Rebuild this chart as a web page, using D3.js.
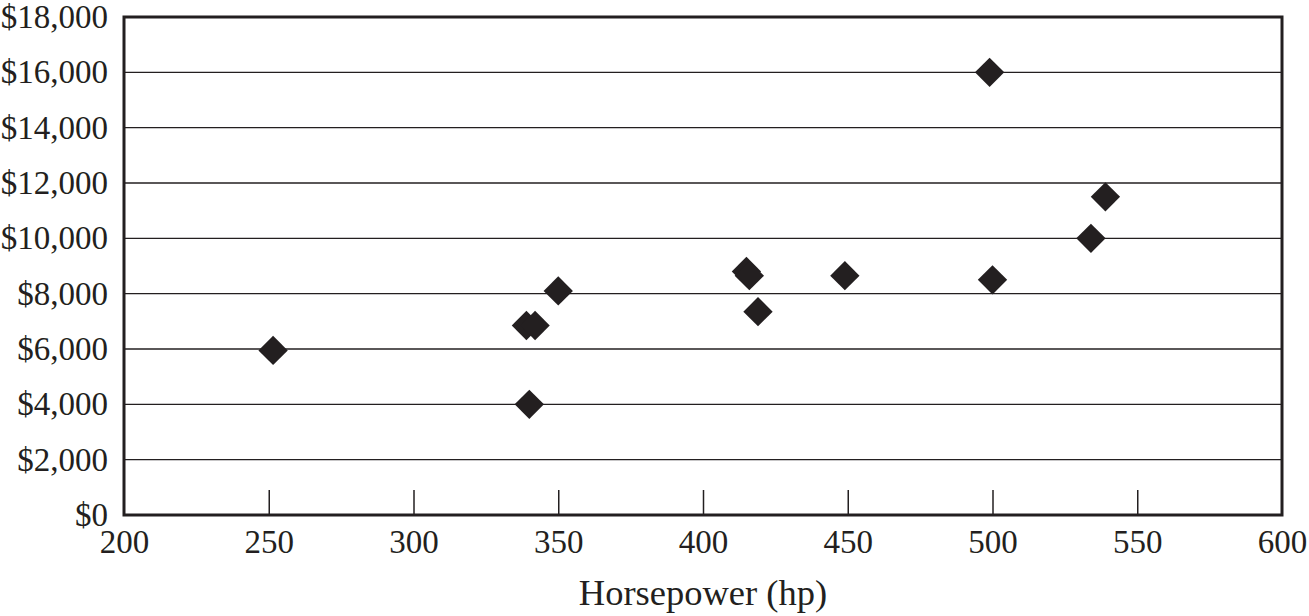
<!DOCTYPE html>
<html>
<head>
<meta charset="utf-8">
<script src="https://cdn.jsdelivr.net/npm/d3@7"></script>
<style>
  body { margin: 0; background: #fff; }
  svg { display: block; }
</style>
</head>
<body>
<svg width="1309" height="616"></svg>
<script>
// horsepower vs price
const horsepower = [251.5, 340, 339, 342, 350, 415, 416, 419, 449, 499, 500, 534, 539];
const price      = [5950, 4000, 6850, 6850, 8100, 8800, 8650, 7350, 8650, 16000, 8500, 10000, 11500];
const xTicks = [200, 250, 300, 350, 400, 450, 500, 550, 600];
const yTicks = [0, 2000, 4000, 6000, 8000, 10000, 12000, 14000, 16000, 18000];
const xTitle = "Horsepower (hp)";

const ink = "#231f20";
const font = "'Liberation Serif', 'DejaVu Serif', serif";

const svg = d3.select("svg");
const plot = {left: 124, right: 1282, top: 17, bottom: 515};

const xScale = d3.scaleLinear().domain([200, 600]).range([plot.left, plot.right]);
const yScale = d3.scaleLinear().domain([0, 18000]).range([plot.bottom, plot.top]);

// horizontal grid lines
svg.append("g")
    .selectAll("line")
    .data(yTicks.filter(d => d > 0 && d < 18000))
    .join("line")
    .attr("x1", plot.left).attr("x2", plot.right)
    .attr("y1", d => yScale(d)).attr("y2", d => yScale(d))
    .style("stroke", ink)
    .style("stroke-width", 1.4);

// y axis labels
const yAxis = svg.append("g")
    .attr("transform", "translate(" + plot.left + ",0)")
    .call(d3.axisLeft(yScale).tickValues(yTicks).tickSize(0).tickPadding(16)
        .tickFormat(d => "$" + d3.format(",")(d)));
yAxis.select(".domain").remove();
yAxis.selectAll("text")
    .style("font-family", font)
    .style("font-size", "33px")
    .style("fill", ink);

// x axis: inward ticks
const xAxis = svg.append("g")
    .attr("transform", "translate(0," + plot.bottom + ")")
    .call(d3.axisBottom(xScale).tickValues(xTicks).tickSize(-25).tickPadding(12));
xAxis.select(".domain").remove();
xAxis.selectAll(".tick line")
    .style("stroke", ink)
    .style("stroke-width", 1.5)
    .style("display", d => (d === 200 || d === 600) ? "none" : null);
xAxis.selectAll("text")
    .attr("y", 38)
    .attr("dy", 0)
    .style("font-family", font)
    .style("font-size", "33px")
    .style("fill", ink);

// frame
svg.append("rect")
    .attr("x", plot.left).attr("y", plot.top)
    .attr("width", plot.right - plot.left).attr("height", plot.bottom - plot.top)
    .style("fill", "none")
    .style("stroke", ink)
    .style("stroke-width", 3);

// points (diamonds)
const points = horsepower.map((h, i) => ({hp: h, price: price[i]}));
const diamond = d3.symbol().type(d3.symbolSquare).size(430);
svg.append("g")
    .selectAll("path")
    .data(points)
    .join("path")
    .attr("d", diamond)
    .attr("transform", d => "translate(" + xScale(d.hp) + "," + yScale(d.price) + ")rotate(45)")
    .style("fill", ink);

// x title
svg.append("text")
    .attr("x", (plot.left + plot.right) / 2)
    .attr("y", 605)
    .attr("text-anchor", "middle")
    .style("font-family", font)
    .style("font-size", "36.5px")
    .style("fill", ink)
    .text(xTitle);
</script>
</body>
</html>
